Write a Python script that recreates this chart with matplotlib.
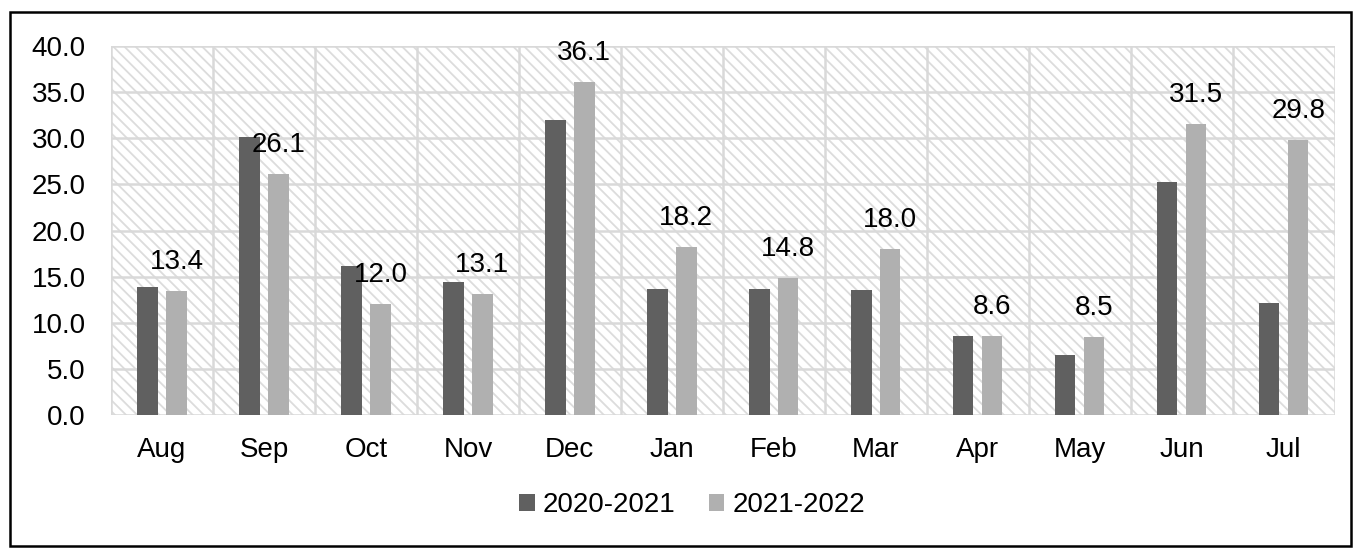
import numpy as np
import matplotlib.pyplot as plt
from matplotlib.patches import Rectangle

months = ['Aug', 'Sep', 'Oct', 'Nov', 'Dec', 'Jan', 'Feb', 'Mar', 'Apr', 'May', 'Jun', 'Jul']
s2021 = [13.9, 30.1, 16.1, 14.4, 32.0, 13.7, 13.7, 13.6, 8.6, 6.5, 25.3, 12.1]
s2022 = [13.4, 26.1, 12.0, 13.1, 36.1, 18.2, 14.8, 18.0, 8.6, 8.5, 31.5, 29.8]
yticks = np.arange(0, 40.1, 5)

plt.rcParams['font.family'] = ['Liberation Sans', 'DejaVu Sans']
plt.rcParams['hatch.linewidth'] = 1.3
plt.rcParams['hatch.color'] = '#dcdcdc'

fig = plt.figure(figsize=(13.55, 5.48), dpi=100)
ax = fig.add_axes([0.0819, 0.2427, 0.9031, 0.6733])

x = np.arange(len(months))
grid = '#d9d9d9'
fs = 20

# hatched plot background
ax.add_patch(Rectangle((0, 0), 1, 1, transform=ax.transAxes, facecolor='white',
                       edgecolor='#dcdcdc', hatch='\\\\\\', linewidth=0, zorder=0))
for v in yticks:
    ax.axhline(v, color=grid, lw=1.8, zorder=1)
for b in np.arange(-0.5, len(months) + 0.5, 1):
    ax.axvline(b, color=grid, lw=1.8, zorder=1)

w = 0.2
off = 0.142
ax.bar(x - off, s2021, width=w, color='#606060', label='2020-2021', zorder=2)
ax.bar(x + off, s2022, width=w, color='#b0b0b0', label='2021-2022', zorder=2)

for xi, v in zip(x, s2022):
    ax.annotate(f'{v:.1f}', (xi + off, v), xytext=(0, 29), textcoords='offset pixels',
                ha='center', va='center', fontsize=fs, zorder=3)

ax.set_xlim(-0.5, len(months) - 0.5)
ax.set_ylim(0, 40)
ax.set_yticks(yticks)
ax.set_yticklabels([f'{v:.1f}' for v in yticks], fontsize=fs)
ax.set_xticks(x)
ax.set_xticklabels(months, fontsize=fs)
ax.tick_params(axis='x', length=0, pad=16)
ax.tick_params(axis='y', length=0, pad=18)
for s in ax.spines.values():
    s.set_visible(False)

fig.legend(loc='center', bbox_to_anchor=(0.511, 0.078), ncol=2, frameon=False,
           fontsize=fs, handlelength=0.55, handleheight=0.55, handletextpad=0.3,
           columnspacing=1.2)

fig.add_artist(Rectangle((0.0074, 0.004), 0.9897, 0.974, transform=fig.transFigure,
                         fill=False, edgecolor='black', lw=1.8))

plt.savefig('out.png', dpi=100)
